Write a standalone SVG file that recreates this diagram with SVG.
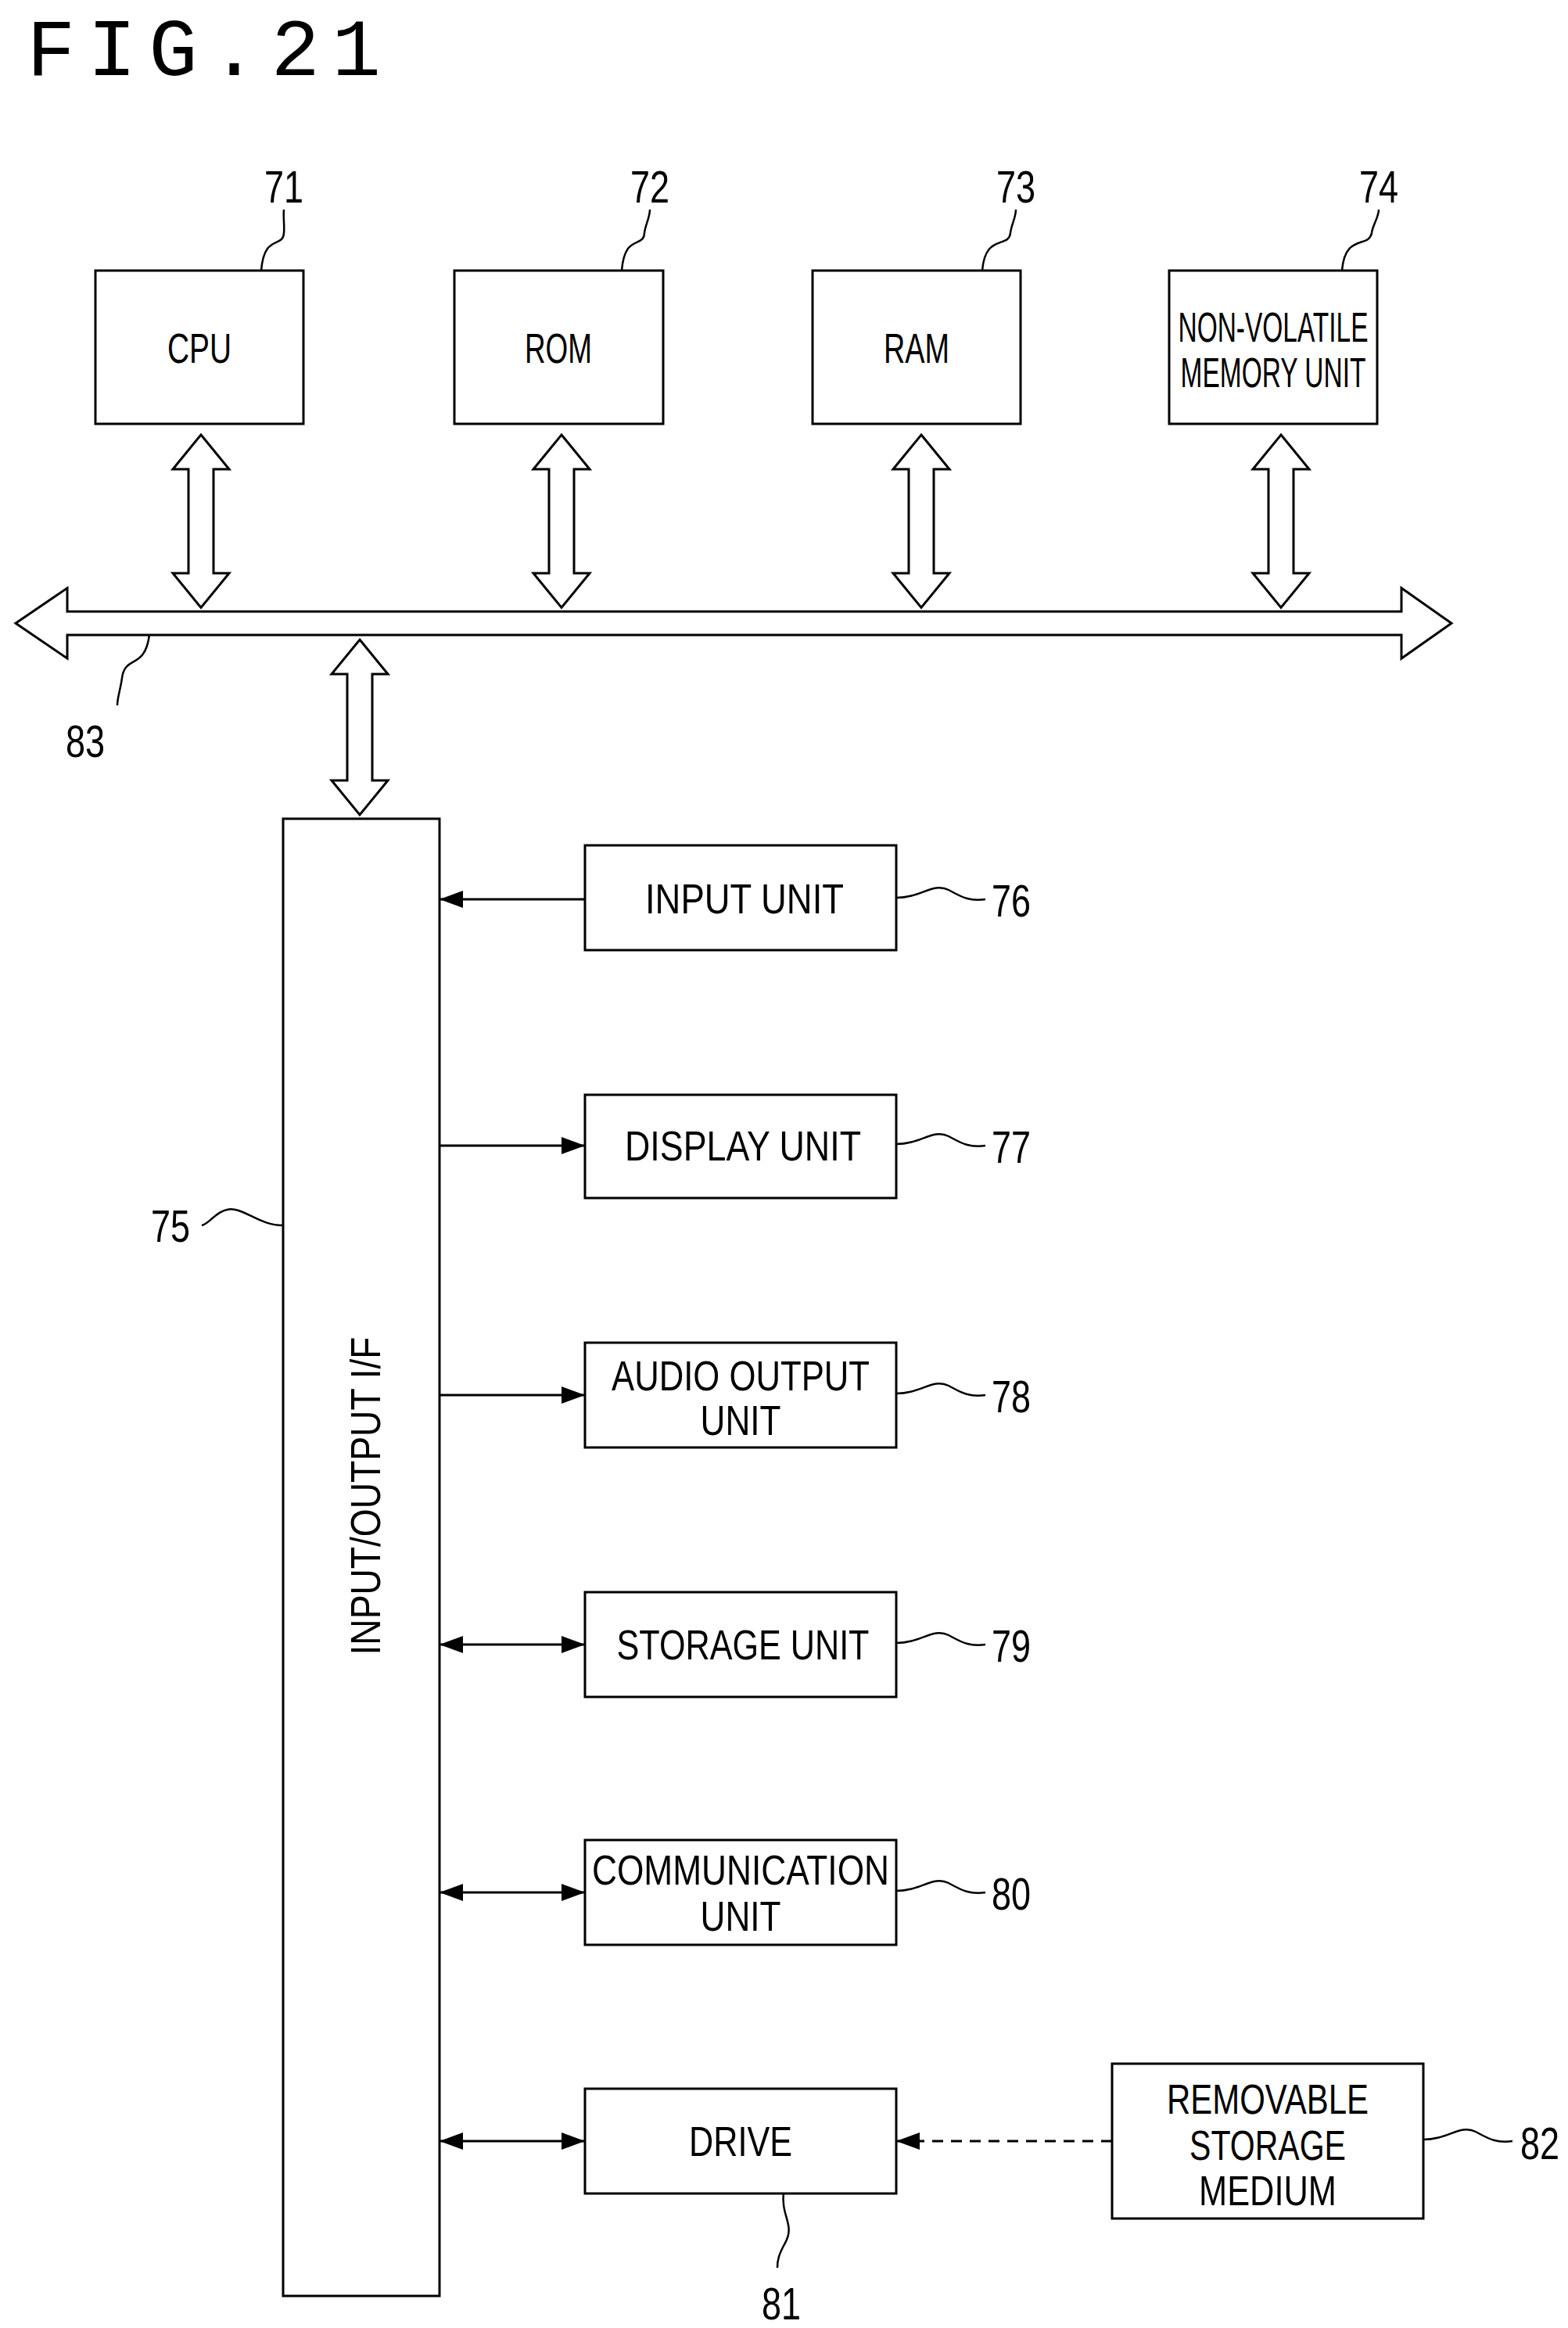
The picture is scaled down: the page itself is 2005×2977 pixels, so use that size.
<svg xmlns="http://www.w3.org/2000/svg" width="2005" height="2977" viewBox="0 0 2005 2977">
<defs>
<marker id="ah" viewBox="0 0 30 22" refX="30" refY="11" markerWidth="30" markerHeight="22" markerUnits="userSpaceOnUse" orient="auto-start-reverse"><path d="M0,0 L30,11 L0,22 Z" fill="#000"/></marker>
</defs>
<style>
.b{fill:#fff;stroke:#000;stroke-width:3}
.t{font-family:"Liberation Sans",Arial,sans-serif;font-size:54px;text-anchor:middle;fill:#000}
.n{font-family:"Liberation Sans",Arial,sans-serif;font-size:58px;text-anchor:middle;fill:#000}
.l{fill:none;stroke:#000;stroke-width:2.5}
.c{fill:none;stroke:#000;stroke-width:3}
.da{fill:#fff;stroke:#000;stroke-width:3;stroke-linejoin:miter}
</style>
<rect width="2005" height="2977" fill="#fff"/>
<text x="34" y="96" font-family="Liberation Mono,monospace" font-size="104" textLength="453" lengthAdjust="spacing">FIG.21</text>

<g id="connectors">
<path class="da" d="M20,797 L86,752 L86,782 L1792,782 L1792,752 L1856,797 L1792,842 L1792,812 L86,812 L86,842 Z"/>
<path class="da" d="M257,556 L293,600 L273,600 L273,733 L293,733 L257,777 L221,733 L241,733 L241,600 L221,600 Z"/>
<path class="da" d="M718,556 L754,600 L734,600 L734,733 L754,733 L718,777 L682,733 L702,733 L702,600 L682,600 Z"/>
<path class="da" d="M1178,556 L1214,600 L1194,600 L1194,733 L1214,733 L1178,777 L1142,733 L1162,733 L1162,600 L1142,600 Z"/>
<path class="da" d="M1638,556 L1674,600 L1654,600 L1654,733 L1674,733 L1638,777 L1602,733 L1622,733 L1622,600 L1602,600 Z"/>
<path class="da" d="M460,818 L496,862 L476,862 L476,998 L496,998 L460,1042 L424,998 L444,998 L444,862 L424,862 Z"/>
<line class="c" x1="749" y1="1150" x2="562" y2="1150" marker-end="url(#ah)"/>
<line class="c" x1="562" y1="1465" x2="748" y2="1465" marker-end="url(#ah)"/>
<line class="c" x1="562" y1="1784" x2="748" y2="1784" marker-end="url(#ah)"/>
<line class="c" x1="562" y1="2103" x2="748" y2="2103" marker-start="url(#ah)" marker-end="url(#ah)"/>
<line class="c" x1="562" y1="2420" x2="748" y2="2420" marker-start="url(#ah)" marker-end="url(#ah)"/>
<line class="c" x1="562" y1="2738" x2="748" y2="2738" marker-start="url(#ah)" marker-end="url(#ah)"/>
<line class="c" x1="1422" y1="2738" x2="1146" y2="2738" stroke-dasharray="14,10" marker-end="url(#ah)"/>
<path class="l" d="M334,346 C338,298 362,318 363,298 C364,288 362,278 363,268"/>
<path class="l" d="M795,346 C799,298 823,318 824,298 C825,288 831,278 831,268"/>
<path class="l" d="M1256,346 C1260,298 1290,318 1292,298 C1293,288 1299,278 1299,268"/>
<path class="l" d="M1716,346 C1720,298 1750,318 1754,298 C1755,288 1763,278 1763,268"/>
<path class="l" d="M191,812 C185,857 160,837 156,867 C154,882 150,892 150,902"/>
<path class="l" d="M362,1567 C330,1567 310,1542 290,1547 C275,1550 268,1565 258,1567"/>
<path class="l" d="M1146,1148 C1178,1148 1193,1128 1213,1138 C1228,1146 1238,1153 1260,1150"/>
<path class="l" d="M1146,1463 C1178,1463 1193,1443 1213,1453 C1228,1461 1238,1468 1260,1465"/>
<path class="l" d="M1146,1782 C1178,1782 1193,1762 1213,1772 C1228,1780 1238,1787 1260,1784"/>
<path class="l" d="M1146,2101 C1178,2101 1193,2081 1213,2091 C1228,2099 1238,2106 1260,2103"/>
<path class="l" d="M1146,2418 C1178,2418 1193,2398 1213,2408 C1228,2416 1238,2423 1260,2420"/>
<path class="l" d="M1820,2736 C1852,2736 1867,2716 1887,2726 C1902,2734 1912,2741 1934,2738"/>
<path class="l" d="M1002,2803 C998,2835 1018,2845 1003,2870 C996,2883 994,2890 994,2900"/>
</g>

<g id="n71"><rect class="b" x="122" y="346" width="266" height="196"/><text class="t" x="255" y="464" textLength="82" lengthAdjust="spacingAndGlyphs">CPU</text><text class="n" x="363" y="259" textLength="50" lengthAdjust="spacingAndGlyphs">71</text></g>
<g id="n72"><rect class="b" x="581" y="346" width="267" height="196"/><text class="t" x="714" y="464" textLength="86" lengthAdjust="spacingAndGlyphs">ROM</text><text class="n" x="831" y="259" textLength="50" lengthAdjust="spacingAndGlyphs">72</text></g>
<g id="n73"><rect class="b" x="1039" y="346" width="266" height="196"/><text class="t" x="1172" y="464" textLength="84" lengthAdjust="spacingAndGlyphs">RAM</text><text class="n" x="1299" y="259" textLength="50" lengthAdjust="spacingAndGlyphs">73</text></g>
<g id="n74"><rect class="b" x="1495" y="346" width="266" height="196"/><text class="t" x="1628" y="437" textLength="243" lengthAdjust="spacingAndGlyphs">NON-VOLATILE</text><text class="t" x="1628" y="495" textLength="237" lengthAdjust="spacingAndGlyphs">MEMORY UNIT</text><text class="n" x="1763" y="259" textLength="50" lengthAdjust="spacingAndGlyphs">74</text></g>
<g id="n83"><text class="n" x="109" y="968" textLength="50" lengthAdjust="spacingAndGlyphs">83</text></g>
<g id="n75"><rect class="b" x="362" y="1047" width="200" height="1889"/><text class="t" transform="translate(486,1913) rotate(-90)" x="0" y="0" textLength="407" lengthAdjust="spacingAndGlyphs">INPUT/OUTPUT I/F</text><text class="n" x="218" y="1588" textLength="50" lengthAdjust="spacingAndGlyphs">75</text></g>
<g id="n76"><rect class="b" x="748" y="1081" width="398" height="134"/><text class="t" x="952" y="1168" textLength="254" lengthAdjust="spacingAndGlyphs">INPUT UNIT</text><text class="n" x="1293" y="1172" textLength="50" lengthAdjust="spacingAndGlyphs">76</text></g>
<g id="n77"><rect class="b" x="748" y="1400" width="398" height="132"/><text class="t" x="950" y="1484" textLength="302" lengthAdjust="spacingAndGlyphs">DISPLAY UNIT</text><text class="n" x="1293" y="1487" textLength="50" lengthAdjust="spacingAndGlyphs">77</text></g>
<g id="n78"><rect class="b" x="748" y="1717" width="398" height="134"/><text class="t" x="947" y="1778" textLength="330" lengthAdjust="spacingAndGlyphs">AUDIO OUTPUT</text><text class="t" x="947" y="1835" textLength="103" lengthAdjust="spacingAndGlyphs">UNIT</text><text class="n" x="1293" y="1806" textLength="50" lengthAdjust="spacingAndGlyphs">78</text></g>
<g id="n79"><rect class="b" x="748" y="2036" width="398" height="134"/><text class="t" x="950" y="2122" textLength="323" lengthAdjust="spacingAndGlyphs">STORAGE UNIT</text><text class="n" x="1293" y="2125" textLength="50" lengthAdjust="spacingAndGlyphs">79</text></g>
<g id="n80"><rect class="b" x="748" y="2353" width="398" height="134"/><text class="t" x="947" y="2410" textLength="380" lengthAdjust="spacingAndGlyphs">COMMUNICATION</text><text class="t" x="947" y="2469" textLength="103" lengthAdjust="spacingAndGlyphs">UNIT</text><text class="n" x="1293" y="2442" textLength="50" lengthAdjust="spacingAndGlyphs">80</text></g>
<g id="n81"><rect class="b" x="748" y="2671" width="398" height="134"/><text class="t" x="947" y="2757" textLength="132" lengthAdjust="spacingAndGlyphs">DRIVE</text><text class="n" x="999" y="2966" textLength="50" lengthAdjust="spacingAndGlyphs">81</text></g>
<g id="n82"><rect class="b" x="1422" y="2639" width="398" height="198"/><text class="t" x="1621" y="2703" textLength="258" lengthAdjust="spacingAndGlyphs">REMOVABLE</text><text class="t" x="1621" y="2762" textLength="200" lengthAdjust="spacingAndGlyphs">STORAGE</text><text class="t" x="1621" y="2820" textLength="176" lengthAdjust="spacingAndGlyphs">MEDIUM</text><text class="n" x="1969" y="2761" textLength="50" lengthAdjust="spacingAndGlyphs">82</text></g>
</svg>
